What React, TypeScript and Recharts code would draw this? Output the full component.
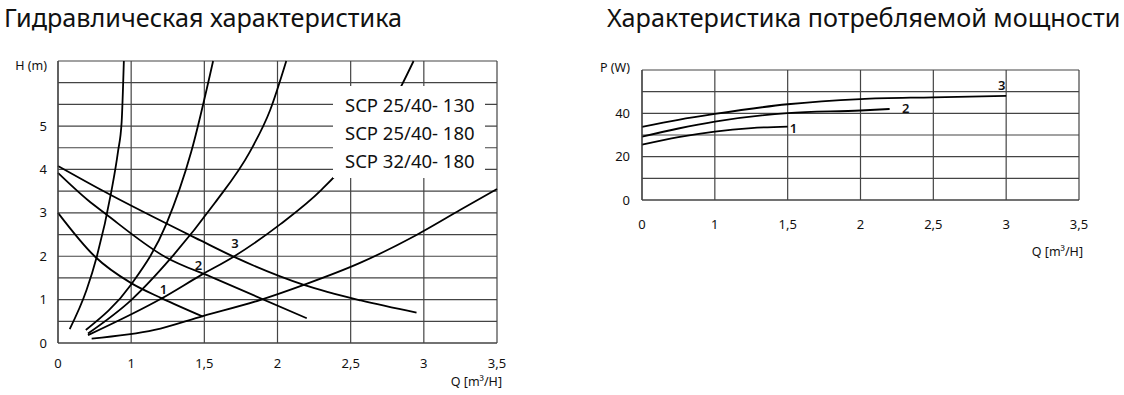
import React from 'react';
import { ComposedChart, Line, Scatter, XAxis, YAxis, CartesianGrid } from 'recharts';

// Q axis: ticks are evenly spaced although 0→1 is a full step (as in the original sheet)
const Q_TICKS = [0, 1, 1.5, 2, 2.5, 3, 3.5];

// hydraulic chart, H (m)
const H_GRID = [0, 0.5, 1, 1.5, 2, 2.5, 3, 3.5, 4, 4.5, 5, 5.5, 6, 6.5];
const H_LABELED = [0, 1, 2, 3, 4, 5];

// pump curves [Q, H]
const PUMP_1 = [[0, 3.0], [0.5, 2.0], [1.0, 1.38], [1.21, 1.03], [1.49, 0.61]];
const PUMP_2 = [[0, 3.92], [0.41, 3.29], [0.64, 2.99], [1.23, 1.99], [1.57, 1.49], [2.2, 0.57]];
const PUMP_3 = [[0, 4.08], [0.6, 3.52], [1.47, 2.37], [1.7, 1.99], [2.18, 1.34], [2.57, 0.98], [2.95, 0.7]];

// system curves [Q, H]
const SYS_A = [[0.16, 0.32], [0.39, 1.22], [0.53, 1.99], [0.73, 3.5], [0.82, 4.41], [0.87, 5.1], [0.9, 6.5]];
const SYS_B = [[0.38, 0.3], [1.0, 1.35], [1.24, 2.74], [1.41, 4.4], [1.56, 6.5]];
const SYS_C = [[0.41, 0.22], [1.0, 0.99], [1.28, 1.99], [1.57, 3.22], [1.81, 4.4], [1.95, 5.37], [2.06, 6.5]];
const SYS_D = [[0.41, 0.18], [1.21, 1.03], [1.48, 1.57], [1.7, 1.99], [2.02, 2.74], [2.3, 3.53], [2.85, 5.95], [2.93, 6.5]];
const SYS_E = [[0.46, 0.1], [1.16, 0.3], [1.49, 0.62], [1.88, 0.99], [2.18, 1.34], [2.56, 1.84], [2.95, 2.49], [3.25, 3.07], [3.5, 3.55]];

const H_MARKS = [[1.22, 1.24, '1'], [1.46, 1.8, '2'], [1.71, 2.3, '3']];
const MODELS = ['SCP 25/40- 130', 'SCP 25/40- 180', 'SCP 32/40- 180'];

// power chart, P (W)
const P_GRID = [0, 10, 20, 30, 40, 50, 60];
const P_LABELED = [0, 20, 40];
const POWER_1 = [[0, 25.5], [0.5, 29.0], [1, 31.6], [1.25, 33.2], [1.5, 33.9]];
const POWER_2 = [[0, 29.2], [0.5, 33.0], [1, 36.2], [1.5, 40.1], [2, 41.3], [2.2, 42.0]];
const POWER_3 = [[0, 33.8], [0.5, 37.0], [1, 39.7], [1.5, 44.2], [2, 46.6], [2.5, 47.4], [3, 48.1]];
const P_MARKS = [[1.54, 33.4, '1'], [2.31, 42.6, '2'], [2.97, 53, '3']];

const FONT = "'Noto Sans', 'Open Sans', sans-serif";
const GRID = '#444';
const INK = '#111';

const qToU = (q: number) => (q <= 1 ? q : 2 * q - 1);
const uToQ = (u: number) => (u <= 1 ? u : (u + 1) / 2);
const fmtQ = (u: number) => String(uToQ(u)).replace('.', ',');

const toPts = (arr: number[][]) => arr.map(([q, v]) => ({ u: qToU(q), v }));
const toMarks = (arr: any[]) => arr.map(([q, v, t]) => ({ u: qToU(q), v, t }));

const tickStyle = { fill: INK, fontSize: 13, fontFamily: FONT };

function MarkText(props: any) {
  const { cx, cy, payload } = props;
  return (
    <text x={cx} y={cy} textAnchor="middle" dominantBaseline="central"
      fontSize={13} fontWeight={600} fontFamily={FONT} fill={INK}>
      {payload.t}
    </text>
  );
}

function curve(key: string, data: number[][]) {
  return (
    <Line key={key} data={toPts(data)} dataKey="v" type="monotone" stroke="#000"
      strokeWidth={1.8} dot={false} activeDot={false} isAnimationActive={false} />
  );
}

function HydraulicChart() {
  return (
    <ComposedChart width={520} height={395} margin={{ top: 61, right: 23, left: 0, bottom: 0 }}>
      <CartesianGrid stroke={GRID} strokeWidth={1.2} />
      <XAxis type="number" dataKey="u" domain={[0, 6]} ticks={Q_TICKS.map(qToU)} tickFormatter={fmtQ}
        interval={0} height={52} tickLine={false} tickSize={0} tickMargin={16}
        axisLine={{ stroke: GRID, strokeWidth: 1.2 }} tick={tickStyle} />
      <YAxis type="number" domain={[0, 6.5]} ticks={H_GRID}
        tickFormatter={(h: number) => (H_LABELED.includes(h) ? String(h) : '')}
        interval={0} width={58} tickLine={false} tickSize={0} tickMargin={11}
        axisLine={{ stroke: GRID, strokeWidth: 1.2 }} tick={tickStyle} />
      {curve('p1', PUMP_1)}
      {curve('p2', PUMP_2)}
      {curve('p3', PUMP_3)}
      {curve('sa', SYS_A)}
      {curve('sb', SYS_B)}
      {curve('sc', SYS_C)}
      {curve('sd', SYS_D)}
      {curve('se', SYS_E)}
      <Scatter data={toMarks(H_MARKS)} dataKey="v" shape={MarkText} isAnimationActive={false} />
    </ComposedChart>
  );
}

function PowerChart() {
  return (
    <ComposedChart width={540} height={250} margin={{ top: 70, right: 45, left: 0, bottom: 0 }}>
      <CartesianGrid stroke={GRID} strokeWidth={1.2} />
      <XAxis type="number" dataKey="u" domain={[0, 6]} ticks={Q_TICKS.map(qToU)} tickFormatter={fmtQ}
        interval={0} height={50} tickLine={false} tickSize={0} tickMargin={20}
        axisLine={{ stroke: GRID, strokeWidth: 1.2 }} tick={tickStyle} />
      <YAxis type="number" domain={[0, 60]} ticks={P_GRID}
        tickFormatter={(p: number) => (P_LABELED.includes(p) ? String(p) : '')}
        interval={0} width={58} tickLine={false} tickSize={0} tickMargin={12}
        axisLine={{ stroke: GRID, strokeWidth: 1.2 }} tick={tickStyle} />
      {curve('w1', POWER_1)}
      {curve('w2', POWER_2)}
      {curve('w3', POWER_3)}
      <Scatter data={toMarks(P_MARKS)} dataKey="v" shape={MarkText} isAnimationActive={false} />
    </ComposedChart>
  );
}

const abs = (s: React.CSSProperties): React.CSSProperties => ({ position: 'absolute', fontFamily: FONT, color: INK, whiteSpace: 'nowrap', ...s });

export default function App() {
  return (
    <div style={{ position: 'absolute', left: 0, top: 0, width: 1124, height: 395, background: '#fff', overflow: 'hidden' }}>
      <div style={abs({ left: 4, top: 5, fontSize: 25.2, lineHeight: '25px' })}>Гидравлическая характеристика</div>
      <div style={abs({ left: 607, top: 5, fontSize: 25.2, lineHeight: '25px' })}>Характеристика потребляемой мощности</div>

      <div style={{ position: 'absolute', left: 0, top: 0 }}><HydraulicChart /></div>
      <div style={{ position: 'absolute', left: 584, top: 0 }}><PowerChart /></div>

      <div style={abs({ left: 0, width: 47, top: 59, fontSize: 12.5, lineHeight: '13px', textAlign: 'right' })}>H (m)</div>
      <div style={abs({ left: 402, width: 100, top: 375, fontSize: 12.5, lineHeight: '13px', textAlign: 'right' })}>Q [m³/H]</div>
      <div style={abs({ left: 560, width: 70, top: 61, fontSize: 12.5, lineHeight: '13px', textAlign: 'right' })}>P (W)</div>
      <div style={abs({ left: 983, width: 100, top: 245, fontSize: 12.5, lineHeight: '13px', textAlign: 'right' })}>Q [m³/H]</div>

      <div style={abs({ left: 333, top: 86, width: 152, height: 92, background: '#fff', paddingTop: 5, paddingLeft: 12, boxSizing: 'border-box', fontSize: 18.5, lineHeight: '28px' })}>
        {MODELS.map((m) => <div key={m}>{m}</div>)}
      </div>
    </div>
  );
}
